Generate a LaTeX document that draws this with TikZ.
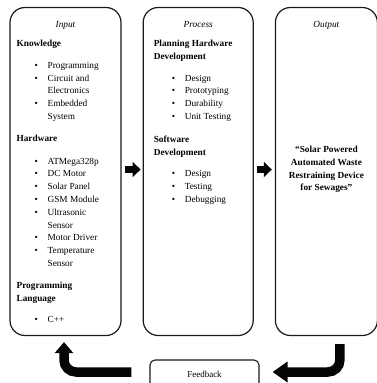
\documentclass[tikz,border=0pt]{standalone}
\usepackage{fontspec}
\setmainfont{Liberation Serif}
\usepackage{xcolor}
\definecolor{BoxLine}{HTML}{1A1A1A}
\definecolor{ArrowBlack}{HTML}{050505}
\usepackage{tikz}
\usetikzlibrary{arrows.meta, positioning, calc}
\tikzstyle{stage} = [rectangle, draw=BoxLine, fill=white, rounded corners=15pt, line width=1.2pt, inner sep=0pt, minimum height=328pt]
\tikzstyle{title} = [font=\fontsize{9.3}{12.8}\selectfont\itshape, inner sep=0pt]
\tikzstyle{list} = [font=\fontsize{9.3}{12.8}\selectfont, align=left, inner sep=0pt]
\tikzstyle{result} = [font=\fontsize{9.3}{12.8}\selectfont\bfseries, align=center, inner sep=0pt]
\tikzstyle{fbbox} = [rectangle, draw=BoxLine, fill=white, rounded corners=5pt, line width=1.1pt, minimum width=109pt, minimum height=30pt, font=\fontsize{9}{11}\selectfont]
\tikzstyle{flow} = [line width=7pt, -{Triangle[width=15pt,length=8pt]}, color=ArrowBlack]
\tikzstyle{loop} = [line width=9.5pt, rounded corners=12pt, color=ArrowBlack]

\newcommand{\bulletline}[1]{\hspace*{18pt}\makebox[13pt][l]{\textbullet}#1}
\newcommand{\wrapline}[1]{\hspace*{31pt}#1}

\begin{document}
\begin{tikzpicture}[x=1pt, y=-1pt]
    \clip (0,0) rectangle (377,383);
    % Stages
    \node [stage, minimum width=111pt] (input) at (65.5,171.5) {};
    \node [stage, minimum width=110pt, right=21pt of input] (process) {};
    \node [stage, minimum width=102pt, right=21pt of process] (output) {};
    \node [fbbox] (feedback) at (204.5,375) {\raisebox{2pt}{Feedback}};

    % Titles
    \node [title, below=14pt of input.north] (intitle) {Input};
    \node [title, below=14pt of process.north] (proctitle) {Process};
    \node [title, below=14pt of output.north] (outtitle) {Output};

    % Input list
    \node [list, below right=33pt and 7pt of input.north west] (inlist) {%
        \textbf{Knowledge}\\[9pt]
        \bulletline{Programming}\\
        \bulletline{Circuit and}\\
        \wrapline{Electronics}\\
        \bulletline{Embedded}\\
        \wrapline{System}\\[9pt]
        \textbf{Hardware}\\[10pt]
        \bulletline{ATMega328p}\\
        \bulletline{DC Motor}\\
        \bulletline{Solar Panel}\\
        \bulletline{GSM Module}\\
        \bulletline{Ultrasonic}\\
        \wrapline{Sensor}\\
        \bulletline{Motor Driver}\\
        \bulletline{Temperature}\\
        \wrapline{Sensor}\\[9pt]
        \textbf{Programming}\\
        \textbf{Language}\\[9pt]
        \bulletline{C++}};

    % Process list
    \node [list, below right=33pt and 11pt of process.north west] (proclist) {%
        \textbf{Planning Hardware}\\
        \textbf{Development}\\[9pt]
        \bulletline{Design}\\
        \bulletline{Prototyping}\\
        \bulletline{Durability}\\
        \bulletline{Unit Testing}\\[10pt]
        \textbf{Software}\\
        \textbf{Development}\\[9pt]
        \bulletline{Design}\\
        \bulletline{Testing}\\
        \bulletline{Debugging}};

    % Output text
    \node [result] (outtext) at ([yshift=2pt]output.center) {“Solar Powered\\ Automated Waste\\ Restraining Device\\ for Sewages”};

    % Arrows
    \draw [flow, shorten <=3pt, shorten >=2pt] ([yshift=2pt]input.east) -- ([yshift=2pt]process.west);
    \draw [flow, shorten <=3pt, shorten >=3pt] ([yshift=2pt]process.east) -- ([yshift=2pt]output.west);

    % Feedback loop
    \draw [loop, -{Triangle[width=20pt,length=15pt]}, shorten >=13pt] ([xshift=13.5pt,yshift=-8pt]output.south) |- ([yshift=3pt]feedback.east);
    \draw [loop, -{Triangle[width=18pt,length=11pt]}, shorten <=18pt, shorten >=6pt] ([yshift=3pt]feedback.west) -| ([xshift=-1.5pt]input.south);
\end{tikzpicture}
\end{document}
